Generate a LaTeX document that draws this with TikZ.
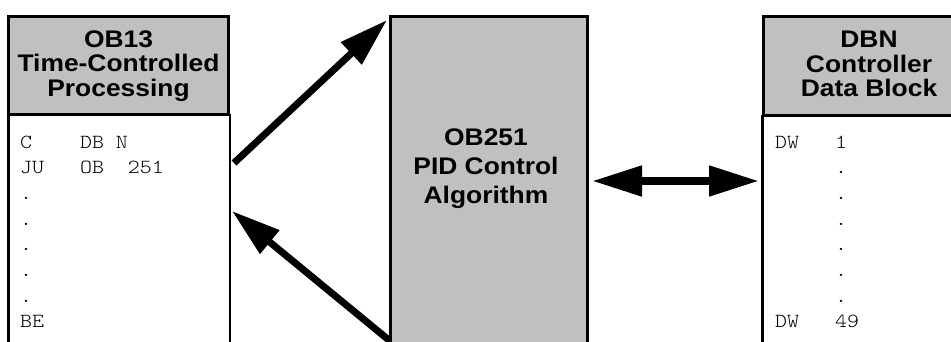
\documentclass[tikz,border=0pt]{standalone}
\usepackage{fontspec}
\usepackage{xcolor}
\usetikzlibrary{arrows.meta}
\newfontfamily\hdfont[FakeStretch=1.1]{Liberation Sans}
\newfontfamily\codefont[FakeStretch=1.14]{lmmonolt10-regular.otf}
\definecolor{blockgray}{RGB}{192,192,192}

\tikzset{
  blockhead/.style={draw, fill=blockgray, line width=3pt, inner sep=0pt},
  headtext/.style={align=center, inner sep=0pt, font=\hdfont\bfseries\fontsize{24}{24.5}\selectfont},
  codeline/.style={anchor=base west, inner sep=0pt, font=\codefont\fontsize{20}{24}\selectfont},
  bigarrow/.style={line width=7pt, -{Triangle[length=49pt, width=29pt]}}
}

\begin{document}
\begin{tikzpicture}[x=1pt, y=-1pt]
    \useasboundingbox (0,0) rectangle (951,341);
    \clip (0,0) rectangle (951,341);

    % OB13 block
    \node[blockhead, minimum width=220pt, minimum height=98pt] (ob13) at (118.5,65) {};
    \node[headtext] (ob13title) at (118.5,66) {OB13\\Time-Controlled\\Processing};
    \draw[line width=3pt] (8.5,114) -- (8.5,350);
    \draw[line width=2pt] (230,114) -- (230,350);
    \node[codeline] (ob13l1) at (20,148) {C\ \ \ \ DB\ N};
    \node[codeline] (ob13l2) at (20,173.7) {JU\ \ \ OB\ \ 251};
    \foreach \k in {2,...,6}
        \node[codeline] (ob13dot\k) at (20,148+25.7*\k) {.};
    \node[codeline] (ob13l8) at (20,327.9) {BE};

    % OB251 block
    \node[blockhead, minimum width=197pt, minimum height=334pt] (ob251) at (488.5,183) {};
    \node[headtext, font=\hdfont\bfseries\fontsize{24}{29}\selectfont] (ob251title) at (486,169) {OB251\\PID Control\\Algorithm};

    % DBN block
    \node[blockhead, minimum width=189pt, minimum height=99pt] (dbn) at (857.5,65.5) {};
    \node[headtext] (dbntitle) at (869,64) {DBN\\Controller\\Data Block};
    \draw[line width=3pt] (762,115) -- (762,350);
    \node[codeline] (dbnl1) at (775,148) {DW\ \ \ 1};
    \foreach \k in {1,...,6}
        \node[codeline] (dbndot\k) at (775,148+25.7*\k) {\ \ \ \ \ .};
    \node[codeline] (dbnl8) at (775,327.9) {DW\ \ \ 49};

    % Arrows
    \coordinate (callfrom) at (234,163);
    \coordinate (callto) at (387,20);
    \coordinate (retfrom) at (390,341);
    \coordinate (retto) at (232,211);
    \coordinate (dbleft) at (592,181);
    \coordinate (dbright) at (759,181);
    \draw[bigarrow] (callfrom) -- (callto);
    \draw[bigarrow] (retfrom) -- (retto);
    \draw[bigarrow, line width=8pt, {Triangle[length=50pt, width=29pt]}-{Triangle[length=50pt, width=29pt]}] (dbleft) -- (dbright);
\end{tikzpicture}
\end{document}
